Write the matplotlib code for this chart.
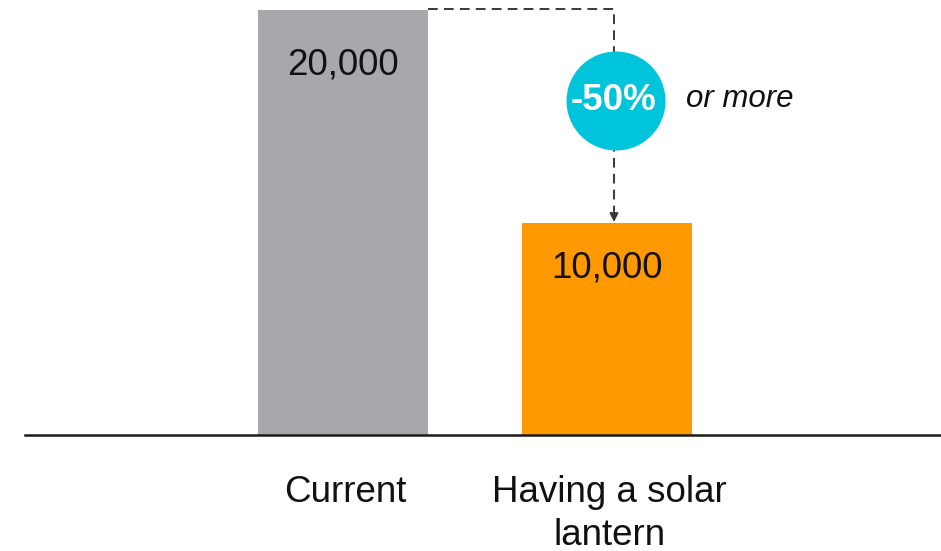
import matplotlib
matplotlib.use("Agg")
import matplotlib.pyplot as plt
from matplotlib.patches import Circle

categories = ["Current", "Having a solar\nlantern"]
values = [20000, 10000]
value_labels = ["20,000", "10,000"]
bar_colors = ["#A7A8AC", "#FF9900"]
change_label = "-50%"
change_note = "or more"

plt.rcParams["font.family"] = ["Liberation Sans", "DejaVu Sans"]

W, H = 941, 551
fig = plt.figure(figsize=(W / 100, H / 100), dpi=100)
# axes spans from the baseline to the top edge, full width right of the margin
left_px, base_px = 25, 435
ax = fig.add_axes([left_px / W, (H - base_px) / H, (W - left_px) / W, base_px / H])

unit = 264.0  # px between category centres
x0_px = 343.0
xs = [0, 1]
bar_w = 170 / unit
ax.set_xlim((left_px - x0_px) / unit, (W - x0_px) / unit)
ymax = values[0] * base_px / 425.0
ax.set_ylim(0, ymax)
px = ymax / base_px  # data units per pixel

ax.bar(xs, values, width=bar_w, color=bar_colors, zorder=2)

label_drop_px = [55, 45]
for x, v, lab, d in zip(xs, values, value_labels, label_drop_px):
    ax.text(x, v - d * px, lab, ha="center", va="center", fontsize=26.5, color="#111111", zorder=3)

for x, cat in zip(xs, categories):
    ax.text(x + 0.01, -40 * px, cat, ha="center", va="top", fontsize=26.5,
            color="#111111", linespacing=1.28, clip_on=False)

# baseline
ax.axhline(0, color="#1a1a1a", lw=1.8, zorder=4, clip_on=False)

# dashed connector from the first bar's top down to the second bar
line_x = xs[1] + 7 / unit
line_col = "#3B3733"
ax.plot([xs[0] + bar_w / 2, line_x, line_x],
        [values[0] + 1 * px, values[0] + 1 * px, values[1] + 12 * px],
        color=line_col, lw=1.4, dashes=(5, 3.2), zorder=3, solid_capstyle="butt")
ax.annotate("", xy=(line_x, values[1] + 0.5 * px), xytext=(line_x, values[1] + 13 * px),
            arrowprops=dict(arrowstyle="-|>", color=line_col, lw=1.2, mutation_scale=13,
                            shrinkA=0, shrinkB=0),
            zorder=3)

# badge with the relative change
cx_px, cy_px, r_px = 616, 101, 49.5
circ = Circle((cx_px, H - cy_px), r_px, facecolor="#00C4DC", edgecolor="none", zorder=5,
              transform=None)
fig.patches.append(circ)
fig.text((cx_px - 2) / W, (H - cy_px) / H, change_label, ha="center", va="center",
         fontsize=26.5, fontweight="bold", color="white", zorder=6)
fig.text(686 / W, (H - 99) / H, change_note, ha="left", va="center",
         fontsize=22.5, fontstyle="italic", color="#111111")

ax.axis("off")
fig.savefig("out.png", dpi=100)
